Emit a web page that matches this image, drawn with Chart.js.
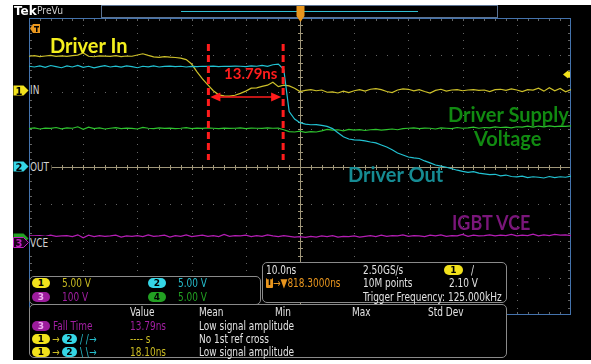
<!DOCTYPE html>
<html>
<head>
<meta charset="utf-8">
<title>Driver In / Driver Out - Fall Time</title>
<script src="https://cdn.jsdelivr.net/npm/chart.js@4.4.1/dist/chart.umd.min.js"></script>
<style>
  body { margin: 0; background: #fff; }
  #wrap { position: relative; width: 591px; height: 364px; overflow: hidden; }
  #scope { position: absolute; left: 0; top: 0; }
  .t { position: absolute; font-family: 'Liberation Sans Narrow', 'DejaVu Sans Condensed', sans-serif; font-size: 12px; line-height: 14px; white-space: nowrap; color: #e2e2e2; transform: scaleX(0.83); transform-origin: 0 0; }
  .big { position: absolute; font-family: Lato, 'Open Sans', sans-serif; font-weight: 700; font-size: 20px; line-height: 20px; white-space: nowrap; transform-origin: 0 0; }
  .box { position: absolute; border: 1px solid #8a8a8a; border-radius: 5px; background: #000; box-sizing: border-box; }
  .badge { position: absolute; width: 18px; height: 10px; border-radius: 5px; font-family: 'DejaVu Sans', sans-serif; font-weight: 700; font-size: 9px; line-height: 10px; text-align: center; color: #000; }
  .ylw { color: #c9bb22; } .cyn { color: #25bccb; } .pur { color: #a21fa2; } .grn { color: #22a022; } .org { color: #e8951e; }
  .b1 { background: #f2e21c; } .b2 { background: #35d6e6; } .b3 { background: #9c1c9c; color: #f0b0f0; } .b4 { background: #22a022; }
  .chl { background: #000; color: #d2d2d2; padding-right: 3px; }
  svg.mk { position: absolute; overflow: visible; }
</style>
</head>
<body>
<div id="wrap">
  <canvas id="scope" width="591" height="364"></canvas>

  <!-- top bar -->
  <span class="t" style="left:14px;top:4px;font-family:'DejaVu Sans',sans-serif;font-weight:700;font-size:12px;color:#fff;transform:none">Tek</span>
  <span class="t" style="left:37px;top:4px;font-size:11px;color:#cfcfcf;transform:scaleX(0.93)">PreVu</span>

  <!-- channel markers -->
  <svg class="mk" style="left:13px;top:85px" width="16" height="11"><polygon points="0.5,0.5 10.5,0.5 15.5,5.5 10.5,10.5 0.5,10.5" fill="#f2e21c"/><text x="6" y="9.5" font-family="DejaVu Sans" font-weight="700" font-size="10" text-anchor="middle" fill="#000">1</text></svg>
  <svg class="mk" style="left:13px;top:161px" width="16" height="11"><polygon points="0.5,0.5 10.5,0.5 15.5,5.5 10.5,10.5 0.5,10.5" fill="#35d6e6"/><text x="6" y="9.5" font-family="DejaVu Sans" font-weight="700" font-size="10" text-anchor="middle" fill="#000">2</text></svg>
  <svg class="mk" style="left:13px;top:233px" width="16" height="11"><polygon points="0.5,0.5 10.5,0.5 15.5,5.5 10.5,10.5 0.5,10.5" fill="#22a022"/></svg>
  <svg class="mk" style="left:13px;top:237px" width="16" height="11"><polygon points="0.5,0.5 10.5,0.5 15.5,5.5 10.5,10.5 0.5,10.5" fill="#1a001a" stroke="#c020c0"/><text x="6" y="9.5" font-family="DejaVu Sans" font-weight="700" font-size="10" text-anchor="middle" fill="#c020c0">3</text></svg>
  <span class="t chl" style="left:30px;top:83px">IN</span>
  <span class="t chl" style="left:30px;top:160px">OUT</span>
  <span class="t chl" style="left:30px;top:236px">VCE</span>

  <!-- annotations -->
  <span class="big" style="left:50px;top:35px;color:#f4ef1e">Driver In</span>
  <span class="big" style="left:224px;top:66px;font-size:15px;line-height:15px;color:#ff1c1c">13.79ns</span>
  <span class="big" style="left:448px;top:104px;color:#118a11">Driver Supply</span>
  <span class="big" style="left:474px;top:128px;color:#118a11">Voltage</span>
  <span class="big" style="left:348px;top:164px;color:#168b93">Driver Out</span>
  <span class="big" style="left:452px;top:212px;color:#7a167a;transform:scaleX(0.9)">IGBT VCE</span>

  <!-- vertical scale box -->
  <div class="box" style="left:29px;top:276px;width:232px;height:29px"></div>
  <span class="badge b1" style="left:32px;top:278px">1</span><span class="t ylw" style="left:62px;top:276px">5.00 V</span>
  <span class="badge b2" style="left:148px;top:278px">2</span><span class="t cyn" style="left:178px;top:276px">5.00 V</span>
  <span class="badge b3" style="left:32px;top:292px">3</span><span class="t pur" style="left:62px;top:290px">100 V</span>
  <span class="badge b4" style="left:148px;top:292px">4</span><span class="t grn" style="left:178px;top:290px">5.00 V</span>

  <!-- timebase / trigger box -->
  <div class="box" style="left:262px;top:262px;width:245px;height:41px"></div>
  <span class="t" style="left:266px;top:263px">10.0ns</span>
  <span class="badge" style="left:266px;top:278px;width:7px;border-radius:1px;background:#e8951e;font-size:8px">T</span>
  <span class="t org" style="left:273px;top:276px">→▼818.3000ns</span>
  <span class="t" style="left:363px;top:263px">2.50GS/s</span>
  <span class="t" style="left:363px;top:276px">10M points</span>
  <span class="t" style="left:363px;top:290px">Trigger Frequency: 125.000kHz</span>
  <span class="badge b1" style="left:444px;top:265px;width:19px">1</span>
  <span class="t" style="left:471px;top:263px">/</span>
  <span class="t" style="left:449px;top:276px">2.10 V</span>

  <!-- measurement box -->
  <div class="box" style="left:29px;top:304px;width:478px;height:54px"></div>
  <span class="t" style="left:130px;top:305px">Value</span>
  <span class="t" style="left:199px;top:305px">Mean</span>
  <span class="t" style="left:275px;top:305px">Min</span>
  <span class="t" style="left:352px;top:305px">Max</span>
  <span class="t" style="left:428px;top:305px">Std Dev</span>

  <span class="badge b3" style="left:32px;top:321px">3</span>
  <span class="t pur" style="left:53px;top:319px">Fall Time</span>
  <span class="t pur" style="left:130px;top:319px">13.79ns</span>
  <span class="t" style="left:199px;top:319px">Low signal amplitude</span>

  <span class="badge b1" style="left:32px;top:334px">1</span>
  <span class="t ylw" style="left:52px;top:332px">→</span>
  <span class="badge b2" style="left:62px;top:334px;width:15px">2</span>
  <span class="t cyn" style="left:80px;top:332px">/ /→</span>
  <span class="t ylw" style="left:130px;top:332px">---- s</span>
  <span class="t" style="left:199px;top:332px">No 1st ref cross</span>

  <span class="badge b1" style="left:32px;top:347px">1</span>
  <span class="t ylw" style="left:52px;top:345px">→</span>
  <span class="badge b2" style="left:62px;top:347px;width:15px">2</span>
  <span class="t cyn" style="left:80px;top:345px">\ \→</span>
  <span class="t ylw" style="left:130px;top:345px">18.10ns</span>
  <span class="t" style="left:199px;top:345px">Low signal amplitude</span>
</div>

<script>
// sample times (ns, trigger at 0) - 10 ns/div, 10 divisions
const timeNs = [
  -50, -49, -48, -47, -46, -45, -44, -43, -42, -41,
  -40, -39, -38, -37, -36, -35, -34, -33, -32, -31,
  -30, -29, -28, -27, -26, -25, -24, -23, -22, -21,
  -20, -19, -18, -17, -16, -15, -14, -13, -12, -11,
  -10, -9, -8, -7, -6, -5, -4, -3, -2, -1,
  0, 1, 2, 3, 4, 5, 6, 7, 8, 9,
  10, 11, 12, 13, 14, 15, 16, 17, 18, 19,
  20, 21, 22, 23, 24, 25, 26, 27, 28, 29,
  30, 31, 32, 33, 34, 35, 36, 37, 38, 39,
  40, 41, 42, 43, 44, 45, 46, 47, 48, 49, 50
];

// CH1 - Driver In (V)
const driverIn = [
  4.55, 4.62, 4.50, 4.58, 4.66, 4.52, 4.60, 4.54, 4.64, 4.70,
  5.00, 4.55, 4.48, 4.60, 4.56, 4.52, 4.62, 4.50, 4.58, 4.55,
  4.72, 4.88, 4.66, 4.46, 4.40, 4.50, 4.42, 4.38, 4.30, 4.10,
  3.50, 2.45, 1.50, 0.70, -0.10, -0.65, -0.80, -0.82, -0.70, -0.45,
  -0.15, 0.25, 0.30, 0.50, 0.65, 1.05, 0.45, 0.65, 0.55, 0.25,
  -0.20, -0.05, 0.05, -0.10, 0.00, -0.30, -0.25, -0.40, -0.15, -0.35,
  -0.10, 0.05, -0.15, 0.10, 0.20, 0.05, -0.20, -0.35, 0.00, 0.15,
  0.10, -0.10, 0.05, -0.20, -0.40, -0.05, 0.10, -0.15, 0.00, 0.05,
  -0.10, 0.00, 0.05, -0.05, 0.00, -0.20, 0.05, 0.10, -0.05, 0.15,
  0.00, -0.20, 0.05, 0.00, 0.25, -0.15, 0.30, -0.10, 0.20, -0.25, 0.05
];

// CH2 - Driver Out (V)
const driverOut = [
  13.50, 13.40, 13.55, 13.35, 13.60, 13.45, 13.30, 13.55, 13.40, 13.62,
  13.35, 13.50, 13.28, 13.45, 13.58, 13.40, 13.52, 13.38, 13.55, 13.45,
  13.30, 13.50, 13.42, 13.55, 13.40, 13.48, 13.52, 13.45, 13.50, 13.40,
  13.48, 13.45, 13.50, 13.48, 13.52, 13.45, 13.50, 13.48, 13.52, 13.50,
  13.45, 13.55, 13.50, 13.62, 13.50, 13.70, 13.80, 13.10, 7.40, 6.40,
  5.90, 5.70, 5.62, 5.65, 5.55, 5.40, 5.10, 4.55, 4.00, 3.70,
  3.58, 3.55, 3.45, 3.30, 3.18, 2.90, 2.62, 2.25, 1.82, 1.55,
  1.28, 1.15, 1.08, 0.75, 0.48, 0.20, 0.05, -0.10, -0.30, -0.50,
  -0.65, -0.78, -0.70, -0.90, -1.00, -1.10, -1.05, -1.25, -1.15, -1.35,
  -1.40, -1.30, -1.50, -1.38, -1.45, -1.55, -1.35, -1.50, -1.38, -1.45, -1.30
];

// CH3 - IGBT VCE (V)
const igbtVce = [
  19, 19, 20, 18, 21, 18, 19, 20, 17, 22,
  14, 21, 17, 20, 18, 19, 21, 16, 19, 18,
  20, 17, 22, 18, 19, 21, 16, 20, 18, 22,
  17, 19, 21, 18, 20, 17, 23, 18, 20, 19,
  21, 17, 20, 18, 22, 19, 17, 20, 18, 16,
  17, 15, 18, 16, 19, 17, 20, 16, 18, 17,
  19, 16, 18, 20, 17, 21, 18, 20, 19, 22,
  18, 20, 19, 17, 21, 19, 22, 18, 20, 19,
  23, 18, 21, 19, 20, 22, 19, 21, 20, 23,
  19, 21, 20, 24, 19, 22, 20, 23, 21, 22, 20
];

// CH4 - Driver Supply Voltage (V)
const supplyVoltage = [
  14.35, 14.45, 14.30, 14.42, 14.38, 14.50, 14.32, 14.45, 14.40, 14.60,
  14.25, 14.55, 14.35, 14.45, 14.30, 14.40, 14.48, 14.35, 14.42, 14.38,
  14.30, 14.52, 14.40, 14.35, 14.45, 14.38, 14.42, 14.36, 14.40, 14.48,
  14.35, 14.42, 14.38, 14.45, 14.40, 14.35, 14.42, 14.38, 14.40, 14.45,
  14.36, 14.42, 14.40, 14.38, 14.45, 14.40, 14.42, 14.20, 13.95, 13.90,
  14.00, 13.85, 13.95, 13.90, 14.05, 14.25, 14.15, 14.20, 14.05, 14.25,
  14.15, 14.22, 14.10, 14.20, 14.25, 14.15, 14.22, 14.30, 14.20, 14.35,
  14.40, 14.45, 14.35, 14.42, 14.40, 14.30, 14.45, 14.40, 14.35, 14.50,
  14.40, 14.45, 14.55, 14.40, 14.50, 14.45, 14.58, 14.50, 14.55, 14.45,
  14.60, 14.55, 14.68, 14.55, 14.70, 14.60, 14.72, 14.62, 14.70, 14.65, 14.72
];

// vertical settings per channel
const voltsPerDiv = { ch1: 5, ch2: 5, ch3: 100, ch4: 5 };
const positionDiv = { ch1: 2.06, ch2: 0, ch3: -2.06, ch4: -1.85 };

// fall time cursors
const fallStartNs = -16.9;
const fallTimeNs = 13.79;

function channelAxis(ch) {
    const v = voltsPerDiv[ch], p = positionDiv[ch];
    return { type: 'linear', display: false, min: (-4 - p) * v, max: (4 - p) * v };
}

function trace(label, values, axis, color) {
    return {
        label: label,
        data: timeNs.map((t, i) => ({ x: t, y: values[i] })),
        yAxisID: axis,
        borderColor: color,
        borderWidth: 1.2,
        pointRadius: 0,
        tension: 0
    };
}

// scope screen: background, top bar, graticule, markers
const scopeScreen = {
    id: 'scopeScreen',
    beforeDraw(chart) {
        const { ctx, chartArea: a } = chart;
        const dx = (a.right - a.left) / 10;
        const dy = (a.bottom - a.top) / 8;
        ctx.save();
        ctx.fillStyle = '#fff';
        ctx.fillRect(0, 0, chart.width, chart.height);
        ctx.fillStyle = '#000';
        ctx.fillRect(13, 5, chart.width - 13, 355);

        // record overview bar
        ctx.strokeStyle = '#5b7393';
        ctx.lineWidth = 1;
        ctx.strokeRect(101.5, 5.5, 396, 12);
        ctx.strokeStyle = '#30bfd0';
        ctx.beginPath(); ctx.moveTo(181, 11.5); ctx.lineTo(418, 11.5); ctx.stroke();

        // dotted graticule
        ctx.fillStyle = '#656565';
        for (let i = 1; i < 10; i++) {
            if (i === 5) continue;
            const x = Math.round(a.left + i * dx);
            for (let k = 1; k < 40; k++) ctx.fillRect(x, Math.round(a.top + k * dy / 5), 1, 1);
        }
        for (let j = 1; j < 8; j++) {
            if (j === 4) continue;
            const y = Math.round(a.top + j * dy);
            for (let k = 1; k < 50; k++) ctx.fillRect(Math.round(a.left + k * dx / 5), y, 1, 1);
        }
        // edge ticks
        for (let k = 1; k < 50; k++) {
            const x = Math.round(a.left + k * dx / 5);
            ctx.fillRect(x, a.top, 1, 3);
            ctx.fillRect(x, a.bottom - 3, 1, 3);
        }
        for (let k = 1; k < 40; k++) {
            const y = Math.round(a.top + k * dy / 5);
            ctx.fillRect(a.left, y, 3, 1);
            ctx.fillRect(a.right - 3, y, 3, 1);
        }

        // centre cross with minor ticks
        const cx = Math.round(a.left + 5 * dx) + 0.5;
        const cy = Math.round(a.top + 4 * dy) + 0.5;
        ctx.strokeStyle = '#a0977a';
        ctx.beginPath();
        ctx.moveTo(a.left, cy); ctx.lineTo(a.right, cy);
        ctx.moveTo(cx, a.top); ctx.lineTo(cx, a.bottom);
        for (let k = 1; k < 50; k++) {
            const x = Math.round(a.left + k * dx / 5) + 0.5;
            ctx.moveTo(x, cy - 2.5); ctx.lineTo(x, cy + 2.5);
        }
        for (let k = 1; k < 40; k++) {
            const y = Math.round(a.top + k * dy / 5) + 0.5;
            ctx.moveTo(cx - 2.5, y); ctx.lineTo(cx + 2.5, y);
        }
        ctx.stroke();

        // frame
        ctx.strokeStyle = '#4473ad';
        ctx.strokeRect(a.left + 0.5, a.top + 0.5, a.right - a.left - 1, a.bottom - a.top - 1);

        // trigger position marker (top)
        ctx.fillStyle = '#e8961e';
        ctx.fillRect(cx - 4, 6, 8, 10);
        ctx.beginPath(); ctx.moveTo(cx - 4, 16); ctx.lineTo(cx + 4, 16); ctx.lineTo(cx, 22); ctx.fill();
        // horizontal position marker (left)
        ctx.beginPath();
        ctx.moveTo(a.left + 1, 28.5); ctx.lineTo(a.left + 4, 24); ctx.lineTo(a.left + 11, 24);
        ctx.lineTo(a.left + 11, 33); ctx.lineTo(a.left + 4, 33); ctx.closePath(); ctx.fill();
        ctx.fillStyle = '#000';
        ctx.fillRect(a.left + 5, 26, 5, 1.5);
        ctx.fillRect(a.left + 7, 26, 1.5, 6);
        // trigger level arrow (right)
        const ty = chart.scales.y1.getPixelForValue(2.1);
        ctx.fillStyle = '#f2e21c';
        ctx.beginPath(); ctx.moveTo(a.right - 8, ty); ctx.lineTo(a.right - 3, ty - 4); ctx.lineTo(a.right - 3, ty + 4); ctx.fill();
        ctx.fillRect(a.right - 3, ty - 3, 2, 6);
        ctx.restore();
    },
    afterDatasetsDraw(chart) {
        const { ctx } = chart;
        const x = chart.scales.x;
        const x1 = x.getPixelForValue(fallStartNs);
        const x2 = x.getPixelForValue(fallStartNs + fallTimeNs);
        ctx.save();
        ctx.strokeStyle = '#ff1c1c';
        ctx.lineWidth = 3;
        ctx.setLineDash([7, 4]);
        ctx.beginPath();
        ctx.moveTo(x1, 44); ctx.lineTo(x1, 160);
        ctx.moveTo(x2, 44); ctx.lineTo(x2, 160);
        ctx.stroke();
        // double arrow between cursors
        const ay = 97;
        ctx.setLineDash([]);
        ctx.lineWidth = 1.5;
        ctx.beginPath(); ctx.moveTo(x1 + 8, ay); ctx.lineTo(x2 - 8, ay); ctx.stroke();
        ctx.fillStyle = '#ff1c1c';
        ctx.beginPath(); ctx.moveTo(x1 + 2, ay); ctx.lineTo(x1 + 12, ay - 4.5); ctx.lineTo(x1 + 12, ay + 4.5); ctx.fill();
        ctx.beginPath(); ctx.moveTo(x2 - 2, ay); ctx.lineTo(x2 - 12, ay - 4.5); ctx.lineTo(x2 - 12, ay + 4.5); ctx.fill();
        ctx.restore();
    }
};

new Chart(document.getElementById('scope'), {
    type: 'line',
    data: {
        datasets: [
            trace('Driver Out', driverOut, 'y2', '#22c2d2'),
            trace('Driver In', driverIn, 'y1', '#cdc02a'),
            trace('Driver Supply Voltage', supplyVoltage, 'y4', '#2ec22e'),
            trace('IGBT VCE', igbtVce, 'y3', '#b41eb4')
        ]
    },
    options: {
        responsive: false,
        animation: false,
        devicePixelRatio: 1,
        layout: { padding: { left: 29, right: 20, top: 18, bottom: 49 } },
        plugins: { legend: { display: false }, tooltip: { enabled: false } },
        scales: {
            x: { type: 'linear', display: false, min: -50, max: 50 },
            y1: channelAxis('ch1'),
            y2: channelAxis('ch2'),
            y3: channelAxis('ch3'),
            y4: channelAxis('ch4')
        }
    },
    plugins: [scopeScreen]
});
</script>
</body>
</html>
